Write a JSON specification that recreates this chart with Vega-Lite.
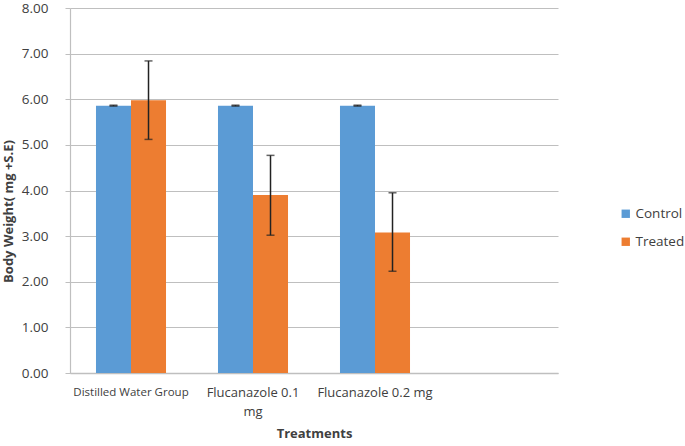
{
  "$schema": "https://vega.github.io/schema/vega-lite/v6.json",
  "width": 488,
  "height": 365,
  "autosize": {"type": "none"},
  "padding": {"left": 70, "top": 8, "right": 127, "bottom": 73},
  "config": {"view": {"stroke": null}, "font": "Open Sans"},
  "data": {
    "values": [
      {"treatment": "Distilled Water Group", "group": "Control", "value": 5.86, "lo": 5.85, "hi": 5.87},
      {"treatment": "Distilled Water Group", "group": "Treated", "value": 5.98, "lo": 5.12, "hi": 6.84},
      {"treatment": "Flucanazole 0.1 mg", "group": "Control", "value": 5.86, "lo": 5.85, "hi": 5.87},
      {"treatment": "Flucanazole 0.1 mg", "group": "Treated", "value": 3.9, "lo": 3.02, "hi": 4.77},
      {"treatment": "Flucanazole 0.2 mg", "group": "Control", "value": 5.86, "lo": 5.85, "hi": 5.87},
      {"treatment": "Flucanazole 0.2 mg", "group": "Treated", "value": 3.08, "lo": 2.23, "hi": 3.95}
    ]
  },
  "encoding": {
    "x": {
      "field": "treatment",
      "type": "nominal",
      "sort": null,
      "scale": {
        "domain": ["Distilled Water Group", "Flucanazole 0.1 mg", "Flucanazole 0.2 mg", " "],
        "paddingInner": 0.426,
        "paddingOuter": 0.213
      },
      "axis": {
        "title": "Treatments",
        "titleFontSize": 13,
        "titleFontWeight": "bold",
        "titleColor": "#404040",
        "titlePadding": 9,
        "labelAngle": 0,
        "labelFontSize": {"condition": {"test": "datum.value == 'Distilled Water Group'", "value": 11.5}, "value": 13},
        "labelColor": "#404040",
        "labelPadding": 13,
        "labelLimit": 200,
        "labelLineHeight": 19,
        "labelExpr": "datum.value == 'Flucanazole 0.1 mg' ? ['Flucanazole 0.1', 'mg'] : datum.value",
        "ticks": false,
        "domainColor": "#bfbfbf",
        "domainWidth": 1.5
      }
    },
    "xOffset": {"field": "group", "type": "nominal", "sort": ["Control", "Treated"], "scale": {"paddingInner": 0}}
  },
  "layer": [
    {
      "mark": {"type": "bar"},
      "encoding": {
        "y": {
          "field": "value",
          "type": "quantitative",
          "scale": {"domain": [0, 8]},
          "axis": {
            "title": "Body Weight( mg +S.E)",
            "titleFontSize": 13,
            "titleFontWeight": "bold",
            "titleColor": "#404040",
            "titleX": -55,
            "titleY": 203,
            "values": [0, 1, 2, 3, 4, 5, 6, 7, 8],
            "format": ".2f",
            "labelFontSize": 13.5,
            "labelColor": "#404040",
            "labelPadding": 17,
            "tickSize": 5,
            "tickColor": "#bfbfbf",
            "gridColor": "#bfbfbf",
            "gridWidth": 1.2,
            "domainColor": "#bfbfbf",
            "domainWidth": 1.2
          }
        },
        "color": {
          "field": "group",
          "type": "nominal",
          "scale": {"domain": ["Control", "Treated"], "range": ["#5B9BD5", "#ED7D31"]},
          "legend": {
            "title": null,
            "orient": "none",
            "legendX": 549,
            "legendY": 199,
            "symbolType": "square",
            "symbolSize": 70,
            "symbolStrokeWidth": 0,
            "labelFontSize": 13.5,
            "labelColor": "#404040",
            "rowPadding": 13,
            "labelOffset": 3
          }
        }
      }
    },
    {
      "mark": {"type": "rule", "color": "#222222", "strokeWidth": 1.5},
      "encoding": {"y": {"field": "lo", "type": "quantitative"}, "y2": {"field": "hi"}}
    },
    {
      "mark": {"type": "tick", "color": "#222222", "thickness": 1.5, "size": 8, "orient": "horizontal"},
      "encoding": {"y": {"field": "lo", "type": "quantitative"}}
    },
    {
      "mark": {"type": "tick", "color": "#222222", "thickness": 1.5, "size": 8, "orient": "horizontal"},
      "encoding": {"y": {"field": "hi", "type": "quantitative"}}
    }
  ]
}
